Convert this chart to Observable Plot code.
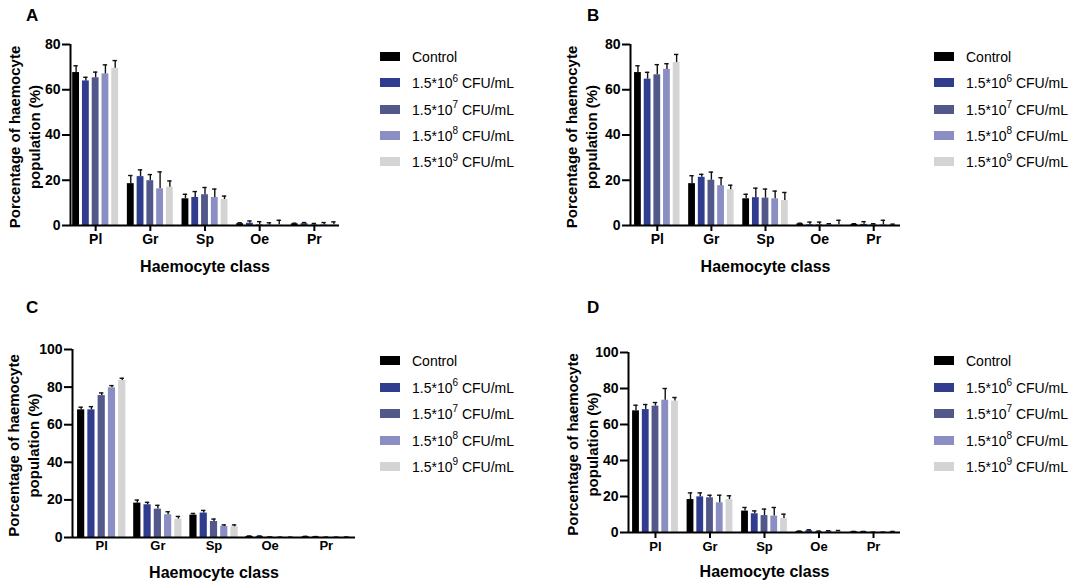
<!DOCTYPE html>
<html>
<head>
<meta charset="utf-8">
<script src="https://cdn.jsdelivr.net/npm/d3@7"></script>
<script src="https://cdn.jsdelivr.net/npm/@observablehq/plot@0.6"></script>
<style>
  html, body { margin: 0; padding: 0; background: #fff; }
  body { width: 1084px; height: 584px; position: relative; overflow: hidden;
         font-family: "Liberation Sans", Arial, Helvetica, sans-serif; }
  .panel { position: absolute; }
  .letter { position: absolute; font-weight: bold; font-size: 17px; line-height: 17px; color: #000; }
  .legend { position: absolute; font-size: 14px; color: #000; }
  .legend .row { position: absolute; left: 0; white-space: nowrap; height: 16px; line-height: 16px; }
  .legend .sw { position: absolute; left: 0; top: 3px; width: 20px; height: 9px; }
  .legend .lab { position: absolute; left: 32px; top: 0; }
  .legend sup { font-size: 10px; line-height: 0; position: relative; top: -1px; }
</style>
</head>
<body>
<script>
// ---- data ----
const categories = ["Pl", "Gr", "Sp", "Oe", "Pr"];
const series = ["Control", "1.5*10^6 CFU/mL", "1.5*10^7 CFU/mL", "1.5*10^8 CFU/mL", "1.5*10^9 CFU/mL"];
const seriesExp = [null, "6", "7", "8", "9"];
const colors = ["#000000", "#303d8f", "#53588b", "#8a8ec2", "#d4d4d4"];
const ticksA = [0, 20, 40, 60, 80];
const ticksC = [0, 20, 40, 60, 80, 100];

// means: rows = series, columns = categories (Pl, Gr, Sp, Oe, Pr)
const meansA = [
  [67.6, 18.5, 11.8, 0.8, 0.7],
  [63.9, 21.6, 12.4, 1.0, 0.8],
  [65.3, 19.8, 13.6, 0.3, 0.3],
  [67.0, 16.2, 12.4, 0.2, 0.3],
  [69.5, 16.9, 11.5, 0.3, 0.3]
];
const errsA = [
  [3.0, 3.6, 2.0, 0.4, 0.3],
  [1.6, 3.0, 2.6, 1.0, 0.5],
  [2.5, 2.7, 3.2, 1.4, 0.6],
  [4.0, 7.5, 3.7, 1.0, 1.0],
  [3.4, 2.8, 1.5, 2.0, 1.3]
];
const meansB = [
  [67.6, 18.5, 11.8, 0.7, 0.5],
  [64.7, 21.3, 12.3, 0.3, 0.5],
  [66.6, 20.0, 12.1, 0.3, 0.3],
  [69.0, 17.6, 11.8, 0.3, 0.3],
  [72.0, 15.8, 11.0, 0.3, 0.3]
];
const errsB = [
  [3.0, 3.5, 2.0, 0.3, 0.3],
  [3.0, 1.3, 4.2, 1.2, 1.2],
  [4.5, 3.6, 4.0, 1.2, 0.5],
  [2.5, 3.5, 3.4, 0.5, 2.0],
  [3.6, 2.0, 3.6, 2.0, 0.3]
];
const meansC = [
  [67.9, 18.3, 11.9, 0.6, 0.4],
  [67.9, 17.4, 13.0, 0.6, 0.4],
  [75.5, 15.1, 8.5, 0.2, 0.1],
  [79.6, 12.1, 5.9, 0.1, 0.1],
  [83.5, 9.8, 5.7, 0.1, 0.2]
];
const errsC = [
  [1.4, 1.6, 0.9, 0.2, 0.2],
  [1.7, 1.3, 1.4, 0.2, 0.1],
  [1.4, 2.0, 1.3, 0.1, 0.1],
  [1.2, 1.6, 0.8, 0.1, 0.1],
  [1.2, 1.4, 1.0, 0.1, 0.1]
];
const meansD = [
  [67.6, 18.3, 11.9, 0.6, 0.4],
  [68.3, 19.8, 10.4, 1.0, 0.4],
  [70.2, 19.3, 9.4, 0.5, 0.1],
  [73.5, 16.5, 9.1, 0.6, 0.1],
  [73.0, 18.3, 7.8, 0.5, 0.4]
];
const errsD = [
  [3.1, 3.7, 2.0, 0.2, 0.2],
  [2.8, 2.2, 1.6, 0.5, 0.2],
  [2.0, 1.4, 3.6, 0.3, 0.1],
  [6.5, 4.2, 4.8, 0.4, 0.1],
  [2.0, 2.1, 2.4, 0.6, 0.2]
];
const yTitle = "Porcentage of haemocyte\npopulation (%)";
const xTitle = "Haemocyte class";

// ---- drawing ----
const FONT = "'Liberation Sans', Arial, Helvetica, sans-serif";
const barFrac = 0.7;
const capHalf = 2.2;

function rowsFor(means, errs) {
  return categories.flatMap((c, j) => series.map((s, i) => ({cat: c, series: s, i, mean: means[i][j], err: errs[i][j]})));
}

function panel(cfg) {
  const {left, top, width, height, mL, mR, mT, mB, pI, pO, ymax, yticks, means, errs,
         xTickSize, xTickPad, xFont, yFont, yTitleDx, xTitleDy, letter, letterX, letterY} = cfg;
  const plotW = width - mL - mR;
  const step = plotW / (categories.length - pI + 2 * pO);
  const bw = step * (1 - pI);
  const bstep = bw / (series.length - (1 - barFrac));
  const bwid = bstep * barFrac;
  const rows = rowsFor(means, errs);
  const marks = [];
  series.forEach((s, i) => {
    const data = rows.filter(r => r.i === i);
    const l = i * bstep;
    marks.push(Plot.barY(data, {x: "cat", y: "mean", fill: "series", insetLeft: l, insetRight: bw - l - bwid}));
  });
  series.forEach((s, i) => {
    const data = rows.filter(r => r.i === i);
    const c = i * bstep + bwid / 2;
    marks.push(Plot.ruleX(data, {x: "cat", y1: "mean", y2: d => d.mean + d.err, dx: c - bw / 2, stroke: "#111", strokeWidth: 1.4}));
    marks.push(Plot.tickY(data, {x: "cat", y: d => d.mean + d.err, insetLeft: c - capHalf, insetRight: bw - c - capHalf, stroke: "#111", strokeWidth: 1.4}));
  });
  marks.push(Plot.ruleY([0], {stroke: "#000", strokeWidth: 2}));
  marks.push(Plot.ruleX([categories[0]], {x: d => d, y1: 0, y2: ymax, dx: -(pO * step + bw / 2), stroke: "#000", strokeWidth: 2}));
  marks.push(Plot.axisY({ticks: yticks, tickSize: 8, tickPadding: 2, fontSize: yFont, strokeWidth: 2, label: null}));
  marks.push(Plot.axisX({tickSize: xTickSize, tickPadding: xTickPad, fontSize: xFont, strokeWidth: 2, label: null}));
  marks.push(Plot.text([yTitle], {text: d => d, frameAnchor: "left", rotate: -90, dx: yTitleDx, dy: 2,
    textAnchor: "middle", lineAnchor: "middle", lineHeight: 1.33, fontSize: 15, fontWeight: "bold", fill: "#000"}));
  marks.push(Plot.text([xTitle], {text: d => d, frameAnchor: "bottom", dy: xTitleDy,
    textAnchor: "middle", lineAnchor: "middle", fontSize: 16, fontWeight: "bold", fill: "#000"}));

  const svg = Plot.plot({
    width, height,
    marginLeft: mL, marginRight: mR, marginTop: mT, marginBottom: mB,
    style: {fontFamily: FONT, fontWeight: "bold", color: "#000", background: "transparent", overflow: "visible"},
    x: {type: "band", domain: categories, paddingInner: pI, paddingOuter: pO, align: 0.5, round: false, label: null},
    y: {domain: [0, ymax], label: null},
    color: {domain: series, range: colors},
    marks
  });
  const wrap = document.createElement("div");
  wrap.className = "panel";
  wrap.style.left = left + "px";
  wrap.style.top = top + "px";
  wrap.appendChild(svg);
  document.body.appendChild(wrap);

  const lt = document.createElement("div");
  lt.className = "letter";
  lt.style.left = letterX + "px";
  lt.style.top = letterY + "px";
  lt.textContent = letter;
  document.body.appendChild(lt);
}

function legend(x, y, spacing) {
  const lg = document.createElement("div");
  lg.className = "legend";
  lg.style.left = x + "px";
  lg.style.top = y + "px";
  series.forEach((s, i) => {
    const row = document.createElement("div");
    row.className = "row";
    row.style.top = (i * spacing) + "px";
    const sw = document.createElement("div");
    sw.className = "sw";
    sw.style.background = colors[i];
    const lab = document.createElement("div");
    lab.className = "lab";
    if (seriesExp[i] === null) lab.textContent = s;
    else lab.innerHTML = "1.5*10<sup>" + seriesExp[i] + "</sup> CFU/mL";
    row.appendChild(sw);
    row.appendChild(lab);
    lg.appendChild(row);
  });
  document.body.appendChild(lg);
}

panel({left: 0, top: 0, width: 350, height: 285, mL: 70, mR: 11, mT: 44, mB: 60, pI: 0.16, pO: 0.04,
  ymax: 80, yticks: ticksA, means: meansA, errs: errsA, xTickSize: 6, xTickPad: 3, xFont: 14, yFont: 14,
  yTitleDx: -47, xTitleDy: 41, letter: "A", letterX: 26, letterY: 7});
panel({left: 560, top: 0, width: 350, height: 285, mL: 70, mR: 10, mT: 44, mB: 60, pI: 0.16, pO: 0.075,
  ymax: 80, yticks: ticksA, means: meansB, errs: errsB, xTickSize: 6, xTickPad: 3, xFont: 14, yFont: 14,
  yTitleDx: -50, xTitleDy: 41, letter: "B", letterX: 587, letterY: 7});
panel({left: 0, top: 300, width: 360, height: 284, mL: 72, mR: 5, mT: 49, mB: 47, pI: 0.14, pO: 0.09,
  ymax: 100, yticks: ticksC, means: meansC, errs: errsC, xTickSize: 0, xTickPad: 3, xFont: 13, yFont: 14,
  yTitleDx: -50, xTitleDy: 35, letter: "C", letterX: 26, letterY: 299});
panel({left: 558, top: 300, width: 350, height: 284, mL: 70, mR: 8, mT: 52, mB: 52, pI: 0.16, pO: 0.075,
  ymax: 100, yticks: ticksC, means: meansD, errs: errsD, xTickSize: 6, xTickPad: 3, xFont: 13, yFont: 14,
  yTitleDx: -47, xTitleDy: 39, letter: "D", letterX: 587, letterY: 299});

legend(380, 49, 26.3);
legend(934, 49, 26.3);
legend(380, 353, 26.5);
legend(934, 353, 26.5);
</script>
</body>
</html>
